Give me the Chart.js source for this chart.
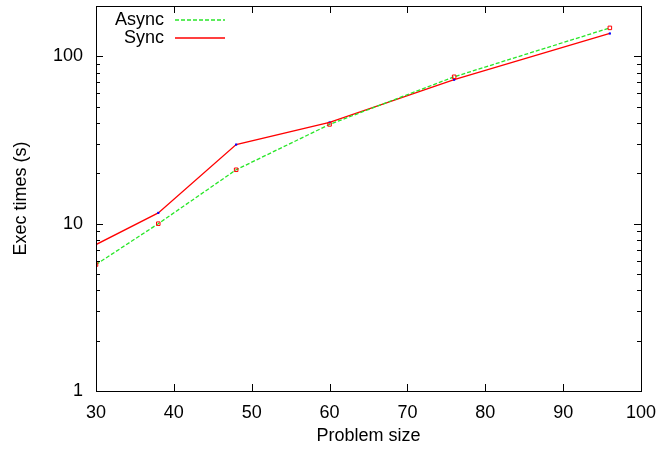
<html>
  <head>
    <title>Exec times</title>
    <script src="https://cdn.jsdelivr.net/npm/chart.js"></script>
    <style>
      body { margin: 0; background: #fff; }
      #wrap { width: 660px; height: 451px; }
    </style>
  </head>
  <body>
    <div id="wrap"><canvas id="myChart" width="660" height="451"></canvas></div>

  <script>
    // values
    const sizes = [30, 38, 48, 60, 76, 96];
    const asyncTimes = [5.7, 10.0, 21.0, 39.2, 75.5, 148];
    const syncTimes = [7.5, 11.6, 29.7, 40.3, 72.5, 137];
    const yTicks = [1, 10, 100];

    const FONT = "'Liberation Sans', Arial, sans-serif";

    // gnuplot style: frame, inward ticks on all 4 sides, legend with lines
    const gnuFrame = {
      id: 'gnuFrame',
      afterDraw(chart) {
        const ctx = chart.ctx;
        const a = chart.chartArea;
        const xs = chart.scales.x, ys = chart.scales.y;
        ctx.save();
        ctx.strokeStyle = '#000';
        ctx.lineWidth = 1;
        ctx.setLineDash([]);
        ctx.strokeRect(a.left + 0.5, a.top + 0.5, a.right - a.left, a.bottom - a.top);
        ctx.beginPath();
        for (let v = 30; v <= 100; v += 10) {
          const px = Math.round(xs.getPixelForValue(v)) + 0.5;
          ctx.moveTo(px, a.bottom); ctx.lineTo(px, a.bottom - 7);
          ctx.moveTo(px, a.top); ctx.lineTo(px, a.top + 7);
        }
        for (let d = 1; d <= 100; d *= 10) {
          for (let m = 1; m <= 9; m++) {
            const v = d * m;
            if (v > 200) break;
            const len = m === 1 ? 7 : 4;
            const py = Math.round(ys.getPixelForValue(v)) + 0.5;
            ctx.moveTo(a.left, py); ctx.lineTo(a.left + len, py);
            ctx.moveTo(a.right, py); ctx.lineTo(a.right - len, py);
          }
        }
        ctx.stroke();

        // legend
        ctx.font = '18px ' + FONT;
        ctx.fillStyle = '#000';
        ctx.textAlign = 'right';
        ctx.textBaseline = 'middle';
        chart.data.datasets.forEach((ds, i) => {
          const y = 20 + i * 18;
          ctx.fillText(ds.label, 164, y);
          ctx.beginPath();
          ctx.strokeStyle = ds.borderColor;
          ctx.lineWidth = 1.3;
          ctx.setLineDash(ds.borderDash || []);
          ctx.moveTo(175, y);
          ctx.lineTo(225, y);
          ctx.stroke();
        });
        ctx.restore();
      }
    };

    const data = {
      labels: sizes,
      datasets: [{
        label: 'Async',
        data: sizes.map((s, i) => ({ x: s, y: asyncTimes[i] })),
        borderColor: 'rgb(40,230,40)',
        borderDash: [4, 2],
        borderWidth: 1.3,
        pointStyle: 'rect',
        pointRadius: 2.5,
        pointBorderColor: 'rgb(255,0,0)',
        pointBackgroundColor: 'rgba(0,0,0,0)',
        pointBorderWidth: 1,
        tension: 0
      }, {
        label: 'Sync',
        data: sizes.map((s, i) => ({ x: s, y: syncTimes[i] })),
        borderColor: 'rgb(255,0,0)',
        borderWidth: 1.3,
        pointStyle: 'rect',
        pointRadius: 1.5,
        pointBorderColor: 'rgb(0,0,255)',
        pointBackgroundColor: 'rgb(0,0,255)',
        pointBorderWidth: 0,
        tension: 0
      }]
    };

    const config = {
      type: 'line',
      data: data,
      options: {
        responsive: false,
        animation: false,
        layout: { padding: { top: 6, right: 19, left: 0, bottom: 0 } },
        plugins: { legend: { display: false }, tooltip: { enabled: false } },
        scales: {
          x: {
            type: 'linear',
            min: 30, max: 100,
            grid: { display: false, drawTicks: false },
            border: { display: false },
            ticks: { stepSize: 10, color: '#000', font: { family: FONT, size: 18 }, padding: 11 },
            title: { display: true, text: 'Problem size', color: '#000', font: { family: FONT, size: 18 }, padding: { top: 3 } },
            afterFit(s) { s.height = 60; s.paddingLeft = 0; s.paddingRight = 0; }
          },
          y: {
            type: 'logarithmic',
            min: 1, max: 200,
            grid: { display: false, drawTicks: false },
            border: { display: false },
            afterBuildTicks(s) { s.ticks = yTicks.map(v => ({ value: v })); },
            ticks: { color: '#000', font: { family: FONT, size: 18 }, padding: 13, callback: v => String(v) },
            title: { display: true, text: 'Exec times (s)', color: '#000', font: { family: FONT, size: 18 }, padding: { top: 10 } },
            afterFit(s) { s.width = 96; s.paddingTop = 0; s.paddingBottom = 0; }
          }
        }
      },
      plugins: [gnuFrame]
    };

    window.myChart = new Chart(document.getElementById('myChart'), config);
  </script>
  </body>
</html>
